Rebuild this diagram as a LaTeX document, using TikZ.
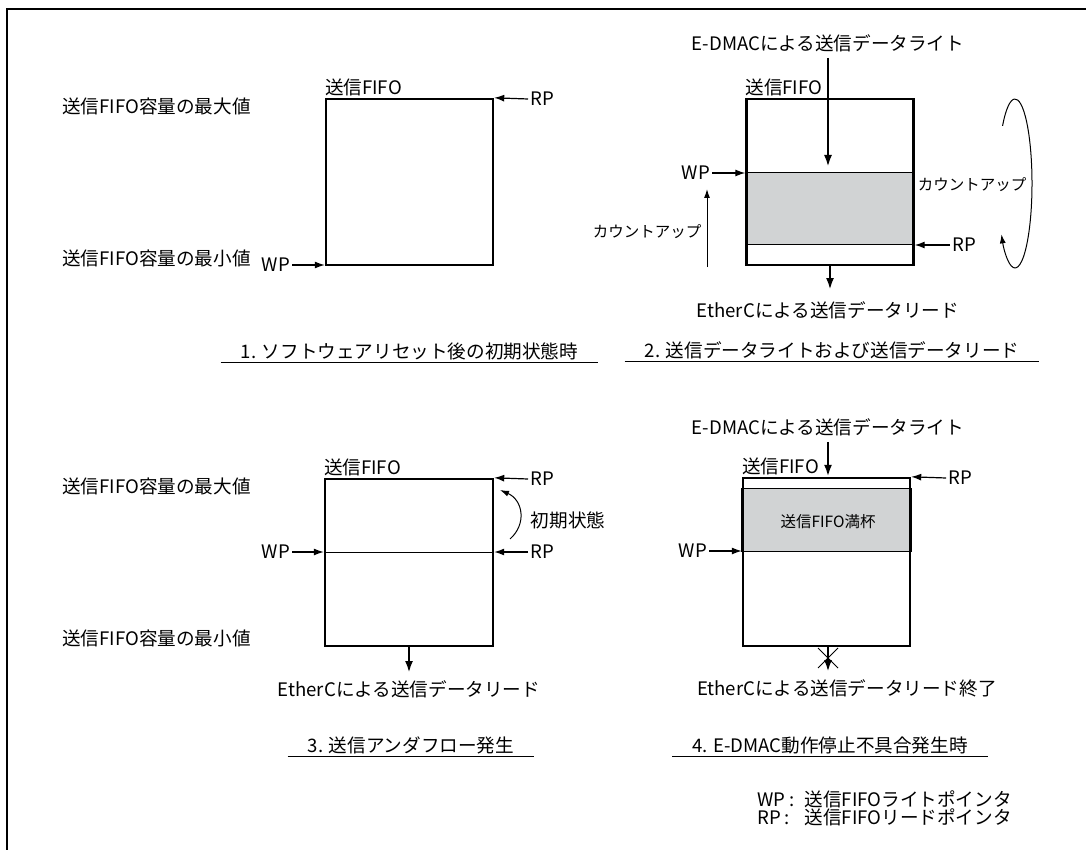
\documentclass[tikz,border=0pt]{standalone}
\usepackage{fontspec}
\setmainfont{Noto Sans CJK JP}
\usetikzlibrary{positioning, arrows.meta, calc, backgrounds}
\definecolor{fifogray}{RGB}{209,211,212}
\tikzset{
    % Text styles
    lbl/.style={font=\fontsize{18.6}{22}\selectfont, inner sep=2pt},
    small lbl/.style={font=\fontsize{15.5}{18}\selectfont, inner sep=2pt},
    caption/.style={lbl, inner xsep=20pt, inner ysep=3pt},
    % FIFO boxes
    fifo/.style={rectangle, draw, line width=2.4pt, minimum width=167pt,
                 minimum height=166pt, inner sep=0pt},
    band/.style={draw, fill=fifogray, line width=1pt},
    % Arrow styles
    ptr/.style={-{Latex[length=10pt,width=7pt]}, line width=1.2pt},
    flow/.style={-{Latex[length=12pt,width=8pt]}, line width=2.4pt},
    count/.style={-{Latex[length=9pt,width=6pt]}, line width=1pt},
    capline/.style={line width=1.2pt},
}

\begin{document}
\begin{tikzpicture}[x=1pt, y=-1pt]
    \useasboundingbox (0,0) rectangle (1086,850);

    % Frame
    \draw[line width=2pt] (1086,9) -- (7,9) -- (7,850);

    % 1. Initial state
    \node[fifo] (fifo1) at (409.5,182) {};
    \node[lbl, anchor=south west, inner xsep=0pt] (name1) at (fifo1.north west) {送信FIFO};
    \node[lbl, anchor=west] (max1) at (60,106) {送信FIFO容量の最大値};
    \node[lbl, anchor=west] (min1) at (60,258) {送信FIFO容量の最小値};
    \node[lbl] (wp1) at (276,265) {WP};
    \node[lbl] (rp1) at (542,99) {RP};
    \draw[ptr] (wp1.east) -- (wp1.east -| fifo1.west);
    \draw[ptr] (rp1.west) -- (fifo1.north east);
    \node[caption] (cap1) at (409.5,351) {1. ソフトウェアリセット後の初期状態時};
    \draw[capline] (cap1.south west) -- (cap1.south east);

    % 2. Write and read
    \node[fifo] (fifo2) at (830,182) {};
    \begin{scope}[on background layer]
        \draw[band] (fifo2.west |- 0,173) rectangle (fifo2.east |- 0,245);
    \end{scope}
    \node[lbl, anchor=south west, inner xsep=0pt] (name2) at (fifo2.north west) {送信FIFO};
    \node[lbl] (wr2) at (828,43) {E-DMACによる送信データライト};
    \coordinate (wtip2) at (828,167);
    \draw[flow] ([yshift=-4pt]wr2.south) -- (wtip2);
    \node[lbl] (wp2) at (696,173) {WP};
    \draw[ptr] (wp2.east) -- (wp2.east -| fifo2.west);
    \node[lbl] (rp2) at (964,245) {RP};
    \draw[ptr] (rp2.west) -- (rp2.west -| fifo2.east);
    \node[small lbl] (cur2) at (972,185) {カウントアップ};
    \node[small lbl] (cul2) at (647,232) {カウントアップ};
    \coordinate (cua2) at (707,267);
    \coordinate (cub2) at (707,189);
    \draw[count] (cua2) -- (cub2);
    \coordinate (loop2) at (1015,183.5);
    \draw[count] (loop2) ++(223:17 and 84.5)
        arc[start angle=223, end angle=503, x radius=17, y radius=84.5];
    \coordinate (rtip2) at (830,290);
    \draw[flow] (fifo2.south) -- (rtip2);
    \node[lbl] (rd2) at (828,310) {EtherCによる送信データリード};
    \node[caption] (cap2) at (832,350) {2. 送信データライトおよび送信データリード};
    \draw[capline] (cap2.south west) -- (cap2.south east);

    % 3. Underflow
    \node[fifo, minimum width=168pt, minimum height=167pt] (fifo3) at (409,562.5) {};
    \draw[line width=1pt] (fifo3.west |- 0,552) -- (fifo3.east |- 0,552);
    \node[lbl, anchor=south west, inner xsep=0pt] (name3) at (fifo3.north west) {送信FIFO};
    \node[lbl, anchor=west] (max3) at (60,486) {送信FIFO容量の最大値};
    \node[lbl, anchor=west] (min3) at (60,638) {送信FIFO容量の最小値};
    \node[lbl] (wp3) at (276,552) {WP};
    \draw[ptr] (wp3.east) -- (wp3.east -| fifo3.west);
    \node[lbl] (rp3a) at (542,479) {RP};
    \node[lbl] (rp3b) at (542,552) {RP};
    \draw[ptr] (rp3a.west) -- (fifo3.north east);
    \draw[ptr] (rp3b.west) -- (rp3b.west -| fifo3.east);
    \coordinate (ia3) at (510,539);
    \coordinate (ib3) at (500,490);
    \draw[count] (ia3) .. controls (527,524) and (523,500) .. (ib3);
    \node[lbl] (init3) at (568,520) {初期状態};
    \coordinate (rtip3) at (409,673);
    \draw[flow] (fifo3.south) -- (rtip3);
    \node[lbl] (rd3) at (409,689) {EtherCによる送信データリード};
    \node[caption] (cap3) at (411,745) {3. 送信アンダフロー発生};
    \draw[capline] (cap3.south west) -- (cap3.south east);

    % 4. E-DMAC stop
    \node[fifo, minimum height=168pt] (fifo4) at (826.5,562) {};
    \begin{scope}[on background layer]
        \draw[band] (fifo4.west |- 0,488) rectangle (fifo4.east |- 0,551);
    \end{scope}
    \node[small lbl] (full4) at (828,522) {送信FIFO満杯};
    \node[lbl, anchor=south west, inner xsep=0pt] (name4) at (fifo4.north west) {送信FIFO};
    \node[lbl] (wr4) at (828,427) {E-DMACによる送信データライト};
    \draw[flow] ([yshift=-4pt]wr4.south) -- (wr4.south |- fifo4.north);
    \node[lbl] (wp4) at (693,551) {WP};
    \draw[ptr] (wp4.east) -- (wp4.east -| fifo4.west);
    \node[lbl] (rp4) at (960,478) {RP};
    \draw[ptr] (rp4.west) -- (fifo4.north east);
    \coordinate (rtip4) at (828,672);
    \draw[flow] (fifo4.south -| rtip4) -- (rtip4);
    \coordinate (stop4) at (828,658);
    \draw[line width=1pt] (stop4) ++(-10,-10) -- ++(20,20)
                          (stop4) ++(10,-10) -- ++(-20,20);
    \node[lbl, anchor=west] (rd4) at (695,688) {EtherCによる送信データリード終了};
    \node[caption] (cap4) at (830,745) {4. E-DMAC動作停止不具合発生時};
    \draw[capline] (cap4.south west) -- (cap4.south east);

    % Legend
    \node[lbl, anchor=west, align=left] (legend) at (755,811)
        {\begin{tabular}{@{}l@{\hspace{10pt}}l@{}}
         WP : & 送信FIFOライトポインタ\\[-4pt]
         RP : & 送信FIFOリードポインタ
         \end{tabular}};
\end{tikzpicture}
\end{document}
